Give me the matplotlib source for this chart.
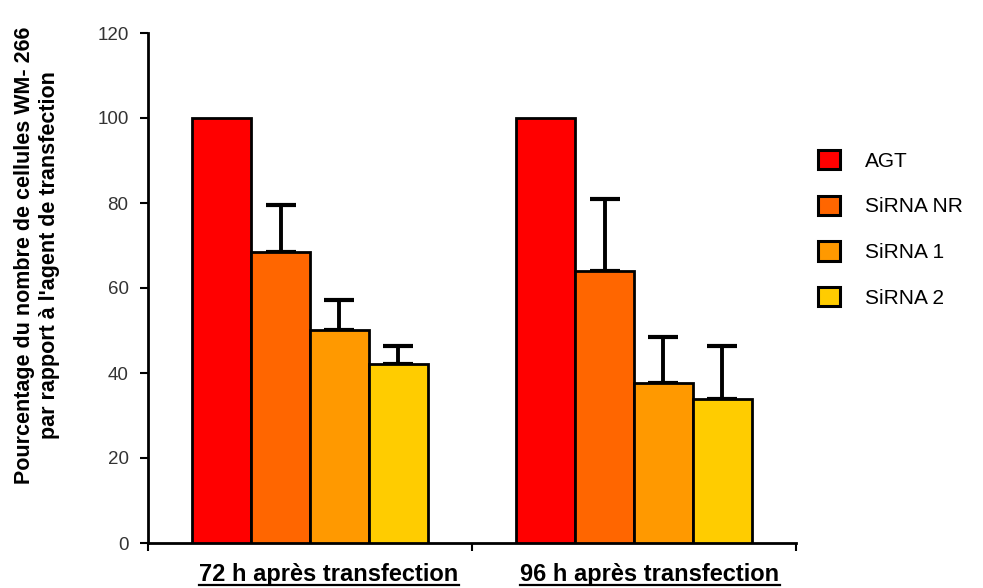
import matplotlib
matplotlib.use("Agg")
import matplotlib.pyplot as plt
from matplotlib.patches import Patch
from matplotlib.lines import Line2D
import numpy as np

plt.rcParams['font.family'] = ['Liberation Sans', 'DejaVu Sans']

groups = ["72 h après transfection", "96 h après transfection"]
series = ["AGT", "SiRNA NR", "SiRNA 1", "SiRNA 2"]
colors = ["#FF0000", "#FF6600", "#FF9900", "#FFCC00"]
values = {
    "AGT": [100, 100],
    "SiRNA NR": [68.5, 64.1],
    "SiRNA 1": [50.1, 37.7],
    "SiRNA 2": [42.1, 33.9],
}
errors = {
    "AGT": [0, 0],
    "SiRNA NR": [11.0, 16.8],
    "SiRNA 1": [7.1, 10.8],
    "SiRNA 2": [4.3, 12.5],
}
yticks = [0, 20, 40, 60, 80, 100, 120]

W, H = 983, 588
fig = plt.figure(figsize=(W / 100, H / 100), dpi=100)
ax = fig.add_axes([148 / W, (H - 543) / H, (796 - 148) / W, (543 - 33) / H])

x = np.arange(len(groups))
bw = 0.182
for i, s in enumerate(series):
    xs = x + (i - 1.5) * bw
    ax.bar(xs, values[s], width=bw, color=colors[i], edgecolor="black",
           linewidth=2, zorder=3)
    if s != "AGT":
        ax.errorbar(xs, values[s], yerr=[np.zeros(len(groups)), errors[s]],
                    fmt="none", ecolor="black", elinewidth=2.8,
                    capsize=10.5, capthick=3, zorder=2)

ax.set_xlim(-0.5, 1.5)
ax.set_ylim(0, 120)
ax.set_yticks(yticks)
ax.set_yticklabels([str(t) for t in yticks], fontsize=13.5, color="#333333")
ax.set_xticks([-0.5, 0.5, 1.5])
ax.set_xticklabels([])
ax.tick_params(axis="y", direction="out", length=6, width=1.5, pad=8)
ax.tick_params(axis="x", direction="out", length=6, width=1.5)
for sp in ["top", "right"]:
    ax.spines[sp].set_visible(False)
for sp in ["left", "bottom"]:
    ax.spines[sp].set_linewidth(2)

fig.text(37 / W, (H - 255) / H,
         "Pourcentage du nombre de cellules WM- 266\npar rapport à l'agent de transfection",
         rotation=90, ha="center", va="center", fontsize=15.5, fontweight="bold",
         linespacing=1.2)

# group labels (underlined)
label_centers = [329, 650]
txts = []
for cx, g in zip(label_centers, groups):
    t = fig.text(cx / W, (H - 575) / H, g, ha="center", va="center",
                 fontsize=17, fontweight="bold")
    txts.append(t)
fig.canvas.draw()
r = fig.canvas.get_renderer()
for t in txts:
    bb = t.get_window_extent(renderer=r)
    yline = bb.y0 + 2
    fig.add_artist(Line2D([bb.x0 / W, bb.x1 / W], [yline / H, yline / H],
                          transform=fig.transFigure, color="black", linewidth=1.6))

handles = [Patch(facecolor=c, edgecolor="black", linewidth=2.2) for c in colors]
fig.legend(handles, series, loc="upper left", bbox_to_anchor=(799 / W, (H - 131) / H),
           frameon=False, fontsize=15, handlelength=1.05, handleheight=1.05,
           labelspacing=1.2, handletextpad=1.2)

fig.savefig("out.png", dpi=100)
